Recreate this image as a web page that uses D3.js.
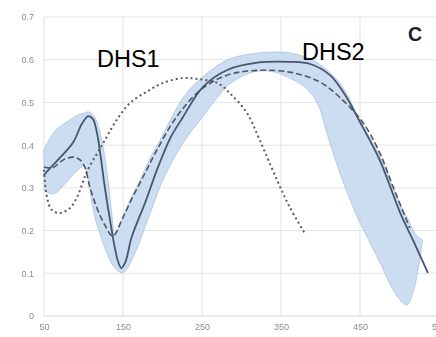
<!DOCTYPE html>
<html>
<head>
<meta charset="utf-8">
<script src="https://cdn.jsdelivr.net/npm/d3@7"></script>
<style>
  html, body { margin: 0; padding: 0; background: #ffffff; }
  svg { display: block; }
</style>
</head>
<body>
<svg id="chart" width="436" height="337"></svg>
<script>
// Axis ticks
const xTicks = [50, 150, 250, 350, 450, 550];
const yTicks = [0, 0.1, 0.2, 0.3, 0.4, 0.5, 0.6, 0.7];
const yTickLabels = ["0", "0.1", "0.2", "0.3", "0.4", "0.5", "0.6", "0.7"];

// Range band (min / max envelope), sampled at common x positions
const bandX = [50, 58, 65, 73, 83, 93, 101, 106, 111, 116, 121, 126, 131, 136, 140, 144, 148, 151, 156, 161,
  167, 172, 179, 187, 197, 210, 222, 235, 248, 267, 285, 304, 323, 342, 361, 380, 396, 408, 421, 434,
  446, 459, 475, 492, 503, 510, 516, 521, 525, 529];
const bandHigh = [0.389, 0.417, 0.436, 0.447, 0.459, 0.471, 0.475, 0.478, 0.473, 0.459, 0.429, 0.384, 0.319, 0.237, 0.187, 0.201, 0.220, 0.237, 0.258, 0.279,
  0.300, 0.319, 0.349, 0.379, 0.412, 0.459, 0.499, 0.532, 0.555, 0.583, 0.602, 0.611, 0.616, 0.618, 0.616, 0.607, 0.593, 0.576, 0.553, 0.518,
  0.471, 0.429, 0.375, 0.300, 0.253, 0.230, 0.206, 0.190, 0.183, 0.178];
const bandLow = [0.295, 0.286, 0.288, 0.302, 0.323, 0.342, 0.351, 0.319, 0.262, 0.220, 0.192, 0.164, 0.141, 0.122, 0.112, 0.105, 0.101, 0.103, 0.112, 0.131,
  0.155, 0.178, 0.215, 0.253, 0.304, 0.354, 0.393, 0.429, 0.459, 0.506, 0.543, 0.564, 0.574, 0.571, 0.557, 0.536, 0.499, 0.429, 0.354, 0.288,
  0.234, 0.185, 0.126, 0.061, 0.033, 0.026, 0.049, 0.084, 0.126, 0.176];

// Mean curve (solid)
const meanX = [50, 58, 70, 87, 98, 106, 112, 117, 122, 126, 130, 134, 139, 144, 148, 153, 161, 178, 193, 210,
  226, 251, 282, 320, 361, 387, 412, 431, 450, 475, 501, 517, 536];
const meanY = [0.330, 0.347, 0.370, 0.407, 0.450, 0.468, 0.461, 0.429, 0.370, 0.314, 0.265, 0.220, 0.166, 0.126, 0.112, 0.126, 0.185, 0.265, 0.342, 0.417,
  0.466, 0.536, 0.576, 0.593, 0.595, 0.590, 0.564, 0.518, 0.454, 0.365, 0.241, 0.178, 0.101];

// DHS2 (dashed)
const dhs2X = [50, 61, 74, 87, 96, 102, 108, 117, 127, 137, 149, 161, 178, 193, 217, 248, 279, 311, 361, 399,
  425, 454, 475, 492, 513];
const dhs2Y = [0.349, 0.347, 0.365, 0.372, 0.365, 0.347, 0.302, 0.253, 0.213, 0.187, 0.227, 0.274, 0.335, 0.389, 0.464, 0.529, 0.562, 0.574, 0.571, 0.548,
  0.511, 0.452, 0.382, 0.302, 0.206];

// DHS1 (dotted)
const dhs1X = [50, 54, 60, 70, 83, 92, 98, 104, 125, 142, 159, 180, 201, 226, 244, 269, 285, 307, 323, 345, 361, 380];
const dhs1Y = [0.342, 0.276, 0.248, 0.241, 0.253, 0.279, 0.307, 0.337, 0.405, 0.459, 0.499, 0.525, 0.546, 0.557, 0.555, 0.546, 0.522, 0.475, 0.412, 0.318, 0.255, 0.194];

const svg = d3.select("#chart");
const x = d3.scaleLinear().domain([50, 550]).range([44, 439]);
const y = d3.scaleLinear().domain([0, 0.7]).range([316, 17]);

// soft filter for the small tick text
const defs = svg.append("defs");
defs.append("filter").attr("id", "soft")
  .append("feGaussianBlur").attr("stdDeviation", 0.35);

// gridlines
const grid = svg.append("g");
grid.selectAll("line.h").data(yTicks.filter(d => d > 0)).join("line")
  .attr("x1", x(50)).attr("x2", 436)
  .attr("y1", d => y(d)).attr("y2", d => y(d))
  .attr("stroke", "#e4e4e4").attr("stroke-width", 1);
grid.selectAll("line.v").data(xTicks).join("line")
  .attr("x1", d => x(d)).attr("x2", d => x(d))
  .attr("y1", y(0.7)).attr("y2", y(0))
  .attr("stroke", "#e2e2e2").attr("stroke-width", 1);
grid.append("line")
  .attr("x1", x(50)).attr("x2", 436).attr("y1", y(0)).attr("y2", y(0))
  .attr("stroke", "#d6d6d6").attr("stroke-width", 1);

// axes (labels only)
const yAxis = d3.axisLeft(y).tickValues(yTicks).tickSize(0).tickPadding(0)
  .tickFormat((d, i) => yTickLabels[i]);
const gy = svg.append("g").attr("transform", "translate(34,0)").call(yAxis);
const xAxis = d3.axisBottom(x).tickValues(xTicks).tickSize(0).tickPadding(0);
const gx = svg.append("g").attr("transform", "translate(0,324)").call(xAxis);
[gy, gx].forEach(g => {
  g.select(".domain").remove();
  g.selectAll("text").attr("fill", "#8c8c8c").attr("font-family", "Liberation Sans, Arial, sans-serif")
    .attr("font-size", 9).attr("filter", "url(#soft)");
});

// range band
const bandData = bandX.map((d, i) => ({ x: d, lo: bandLow[i], hi: bandHigh[i] }));
svg.append("path").datum(bandData)
  .attr("d", d3.area().x(d => x(d.x)).y0(d => y(d.lo)).y1(d => y(d.hi)).curve(d3.curveCatmullRom))
  .attr("fill", "#c3d7ef").attr("fill-opacity", 0.85)
  .attr("stroke", "#a8c2e2").attr("stroke-width", 0.8);

const line = d3.line().x(d => x(d[0])).y(d => y(d[1])).curve(d3.curveCatmullRom);
const zip = (xs, ys) => xs.map((d, i) => [d, ys[i]]);

// DHS1 dotted
svg.append("path").datum(zip(dhs1X, dhs1Y)).attr("d", line)
  .attr("fill", "none").attr("stroke", "#5a5a5a").attr("stroke-width", 2)
  .attr("stroke-dasharray", "2,3");

// DHS2 dashed
svg.append("path").datum(zip(dhs2X, dhs2Y)).attr("d", line)
  .attr("fill", "none").attr("stroke", "#4f5661").attr("stroke-width", 1.6)
  .attr("stroke-dasharray", "6,3");

// mean solid
svg.append("path").datum(zip(meanX, meanY)).attr("d", line)
  .attr("fill", "none").attr("stroke", "#46566d").attr("stroke-width", 1.8);

// series labels
svg.append("text").attr("x", 97).attr("y", 67).text("DHS1")
  .attr("font-family", "Liberation Sans, Arial, sans-serif").attr("font-size", 23.5).attr("fill", "#000");
svg.append("text").attr("x", 302).attr("y", 60).text("DHS2")
  .attr("font-family", "Liberation Sans, Arial, sans-serif").attr("font-size", 23.5).attr("fill", "#000");
svg.append("text").attr("x", 408).attr("y", 41).text("C")
  .attr("font-family", "Liberation Sans, Arial, sans-serif").attr("font-weight", "bold")
  .attr("font-size", 19.5).attr("fill", "#222");
</script>
</body>
</html>
